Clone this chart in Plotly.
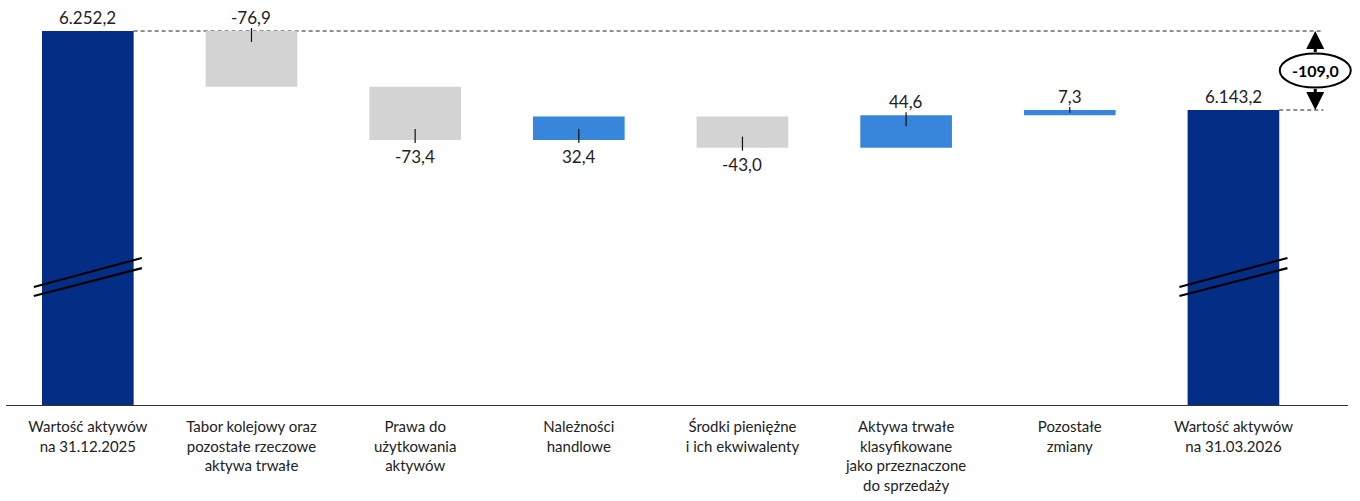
import plotly.graph_objects as go

# --- data -----------------------------------------------------------------
categories = [
    "Wartość aktywów<br>na 31.12.2025",
    "Tabor kolejowy oraz<br>pozostałe rzeczowe<br>aktywa trwałe",
    "Prawa do<br>użytkowania<br>aktywów",
    "Należności<br>handlowe",
    "Środki pieniężne<br>i ich ekwiwalenty",
    "Aktywa trwałe<br>klasyfikowane<br>jako przeznaczone<br>do sprzedaży",
    "Pozostałe<br>zmiany",
    "Wartość aktywów<br>na 31.03.2026",
]
opening_value = 6252.2
changes = [-76.9, -73.4, 32.4, -43.0, 44.6, 7.3]
closing_value = 6143.2
label_side = ["above", "above", "below", "below", "below", "above", "above", "above"]

# --- styling --------------------------------------------------------------
NAVY = "#042E85"
BLUE = "#3786DC"
GREY = "#D3D3D3"
TEXT = "#222222"
CAT_FONT = "Liberation Sans Narrow, Arial Narrow, Lato, sans-serif"
VAL_FONT = "Lato, Liberation Sans, sans-serif"

W, H = 1360, 501
M_L, M_R, M_T, M_B = 6, 12, 0, 96
Y_MIN, Y_MAX = 5736.2, 6295.0
X_MIN, X_MAX = -0.5, 7.7
BAR_W = 0.56

plot_h = H - M_T - M_B
px_per_unit = plot_h / (Y_MAX - Y_MIN)


def fmt(v):
    s = f"{abs(v):,.1f}".replace(",", " ").replace(".", ",").replace(" ", ".")
    return ("-" + s) if v < 0 else s


x = list(range(len(categories)))
values = [opening_value] + changes + [closing_value]
measures = ["absolute"] + ["relative"] * len(changes) + ["total"]

fig = go.Figure(
    go.Waterfall(
        x=x,
        y=values,
        measure=measures,
        width=BAR_W,
        increasing=dict(marker=dict(color=BLUE, line=dict(width=0))),
        decreasing=dict(marker=dict(color=GREY, line=dict(width=0))),
        totals=dict(marker=dict(color=NAVY, line=dict(width=0))),
        connector=dict(visible=False),
        hoverinfo="skip",
    )
)

# bar extents for labels and leader lines
tops, bottoms = [], []
running = opening_value
tops.append(opening_value)
bottoms.append(0)
for c in changes:
    start, end = running, running + c
    tops.append(max(start, end))
    bottoms.append(min(start, end))
    running = end
tops.append(closing_value)
bottoms.append(0)

shapes = []
annotations = []

for i, v in enumerate(values):
    is_total = i == 0 or i == len(values) - 1
    side = label_side[i]
    anchor = tops[i] if side == "above" else bottoms[i]
    annotations.append(dict(
        x=i, y=anchor, xref="x", yref="y",
        text=fmt(v), showarrow=False,
        yanchor="middle", yshift=14 if side == "above" else -17,
        font=dict(family=VAL_FONT, size=17, color=TEXT),
    ))
    if not is_total:
        bar_px = (tops[i] - bottoms[i]) * px_per_unit
        inside = min(11, bar_px / 2)
        if side == "above":
            y0, y1 = 3, -inside
        else:
            y0, y1 = -3, inside
        shapes.append(dict(
            type="line", xref="x", yref="y", ysizemode="pixel", yanchor=anchor,
            x0=i, x1=i, y0=y0, y1=y1,
            line=dict(color="#111111", width=1.2), layer="above",
        ))

# dashed reference lines from the opening and closing totals
last = len(values) - 1
shapes.append(dict(
    type="line", xref="x", yref="y", x0=BAR_W / 2, x1=last + 0.55,
    y0=opening_value, y1=opening_value,
    line=dict(color="#222222", width=1, dash="4px,3px"), layer="below",
))
shapes.append(dict(
    type="line", xref="x", yref="y", x0=last + BAR_W / 2, x1=last + 0.55,
    y0=closing_value, y1=closing_value,
    line=dict(color="#222222", width=1, dash="4px,3px"), layer="below",
))

# axis-break marks on the two total bars
for i in (0, last):
    for lo, hi in ((5899.0, 5939.0), (5886.6, 5925.0)):
        shapes.append(dict(
            type="line", xref="x", yref="y",
            x0=i - 0.33, x1=i + 0.33, y0=lo, y1=hi,
            line=dict(color="#000000", width=2.2), layer="above",
        ))

# net change marker: double arrow with an oval label
arrow_x = last + 0.5
mid = (opening_value + closing_value) / 2
oval_half = 17 / px_per_unit
net = closing_value - opening_value
for tip, tail in ((opening_value, mid + oval_half), (closing_value, mid - oval_half)):
    annotations.append(dict(
        x=arrow_x, y=tip, ax=arrow_x, ay=tail, xref="x", yref="y",
        axref="x", ayref="y", text="", showarrow=True,
        arrowhead=2, arrowsize=1.2, arrowwidth=3, arrowcolor="#000000", standoff=0,
    ))
x_to_paper = lambda xv: (xv - X_MIN) / (X_MAX - X_MIN)
shapes.append(dict(
    type="circle", xref="paper", yref="y",
    x0=x_to_paper(arrow_x) - 35.5 / (W - M_L - M_R),
    x1=x_to_paper(arrow_x) + 35.5 / (W - M_L - M_R),
    y0=mid - oval_half, y1=mid + oval_half,
    line=dict(color="#000000", width=2), fillcolor="white", layer="above",
))
annotations.append(dict(
    x=arrow_x, y=mid, xref="x", yref="y", text=f"<b>{fmt(net)}</b>",
    showarrow=False, font=dict(family=VAL_FONT, size=16, color="#000000"),
))

fig.update_layout(
    width=W, height=H,
    margin=dict(l=M_L, r=M_R, t=M_T, b=M_B),
    paper_bgcolor="white", plot_bgcolor="white",
    showlegend=False,
    shapes=shapes, annotations=annotations,
    xaxis=dict(
        range=[X_MIN, X_MAX], tickmode="array", tickvals=x, ticktext=categories,
        showline=True, linecolor="#333333", linewidth=1, ticks="",
        showgrid=False, zeroline=False, ticklabelstandoff=8,
        tickfont=dict(family=CAT_FONT, size=15, color=TEXT),
        fixedrange=True,
    ),
    yaxis=dict(
        range=[Y_MIN, Y_MAX], visible=False, showgrid=False, zeroline=False,
        fixedrange=True,
    ),
)

fig.write_html("out.html")
